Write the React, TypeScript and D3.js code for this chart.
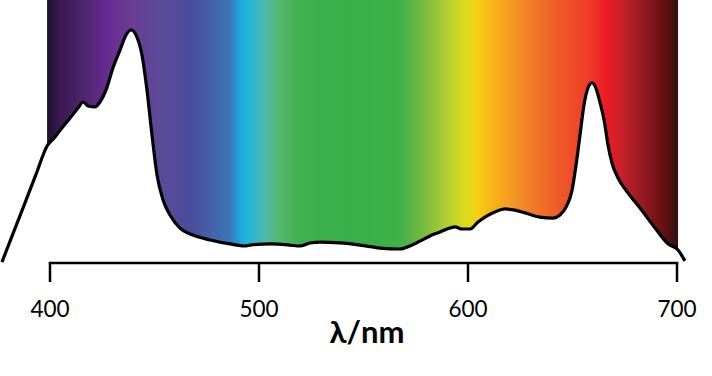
import React from "react";
import * as d3 from "d3";

const W = 712;
const H = 376;

// Emission spectrum: wavelength (nm) and relative intensity (%)
const wavelengths = [
  377.0, 387.8, 393.2, 398.6, 402.4, 405.7, 409.6, 413.4, 415.8, 418.2, 421.5, 423.9, 427.3, 430.1,
  433.5, 436.4, 438.8, 441.1, 444.0, 446.4, 448.8, 451.2, 454.1, 457.4, 462.2, 468.4,
  476.6, 486.1, 493.3, 495.7, 505.3, 514.8, 519.6, 524.4, 529.2, 538.8, 548.3, 557.9,
  567.5, 572.2, 577.0, 581.8, 586.6, 590.0, 593.8, 597.1, 601.0, 604.8, 609.1, 612.9,
  617.7, 622.5, 627.3, 634.4, 640.7, 644.0, 646.9, 649.8, 651.7, 653.6, 655.5, 657.4,
  659.3, 661.2, 663.2, 665.1, 667.0, 668.9, 671.8, 676.6, 682.3, 689.5, 695.7, 700.5,
  703.8,
];
const intensities = [
  0.4, 25.3, 37.8, 50.2, 54.1, 57.9, 62.2, 66.5, 69.1, 67.4, 67.0, 69.1, 75.5, 83.7,
  91.4, 97.9, 100, 97.9, 89.3, 74.2, 54.9, 37.8, 27.0, 20.6, 15.0, 12.0,
  9.9, 8.2, 7.3, 7.7, 8.2, 7.7, 7.3, 8.6, 9.0, 8.6, 7.7, 6.4,
  6.0, 7.3, 9.4, 11.6, 13.3, 14.6, 15.5, 14.6, 14.6, 17.6, 20.2, 21.9,
  23.2, 22.7, 21.5, 19.7, 19.3, 20.6, 24.0, 31.3, 42.1, 54.9, 67.8, 75.1,
  77.3, 75.1, 68.7, 61.4, 50.6, 42.9, 36.5, 30.0, 23.6, 15.0, 8.2, 5.6,
  0.9,
];

// Spectrum colour stops (nm -> colour)
const stopNm = [
  398.6, 404.8, 414.4, 426.3, 438.3, 452.6, 467.0, 476.6, 486.1, 492.3, 498.1, 502.9,
  510.0, 519.6, 543.5, 567.5, 577.0, 586.6, 598.6, 604.8, 610.5, 620.1, 629.7, 644.0,
  658.4, 665.6, 675.1, 684.7, 694.3, 700.5,
];
const stopColors = [
  "#1f0f2f", "#3a1a50", "#4a2468", "#662a90", "#6a3c94", "#5c4a98", "#4a4c9c", "#4560a8",
  "#3a78b8", "#1ab0e0", "#30b8c8", "#50b8a8", "#55b870", "#40b050", "#38b04a", "#40b048",
  "#70b840", "#a0c838", "#dcdc20", "#f5d010", "#f8b818", "#f39a20", "#f07e28", "#ee5a28",
  "#ee3a28", "#ed1c24", "#c0202a", "#901820", "#601010", "#301010",
];
const spectrumStart = 398.6;
const spectrumEnd = 700.5;

const tickValues = [400, 500, 600, 700];
const axisTitle = "λ/nm";

export default function App() {
  const x = d3.scaleLinear().domain([400, 700]).range([50, 677]);
  const y = d3.scaleLinear().domain([0, 100]).range([263, 30]);
  const axisY = 263;

  const pts: [number, number][] = wavelengths.map((w, i) => [w, intensities[i]]);
  const line = d3
    .line<[number, number]>()
    .x((d) => x(d[0]))
    .y((d) => y(d[1]))
    .curve(d3.curveMonotoneX);
  const area = d3
    .area<[number, number]>()
    .x((d) => x(d[0]))
    .y0(axisY + 2)
    .y1((d) => y(d[1]))
    .curve(d3.curveMonotoneX);

  const x0 = x(spectrumStart);
  const x1 = x(spectrumEnd);

  return (
    <svg
      width={W}
      height={H}
      style={{ position: "absolute", left: 0, top: 0, background: "#fff" }}
      fontFamily="Lato, 'Open Sans', sans-serif"
    >
      <defs>
        <linearGradient id="spec" gradientUnits="userSpaceOnUse" x1={x0} y1={0} x2={x1} y2={0}>
          {stopNm.map((n, i) => (
            <stop key={i} offset={(x(n) - x0) / (x1 - x0)} stopColor={stopColors[i]} />
          ))}
        </linearGradient>
      </defs>
      <rect x={x0} y={0} width={x1 - x0} height={axisY} fill="url(#spec)" />
      <path d={area(pts) || ""} fill="#fff" />
      <path d={line(pts) || ""} fill="none" stroke="#000" strokeWidth={3.2} strokeLinejoin="round" />
      <line x1={x(400)} x2={x(700)} y1={axisY} y2={axisY} stroke="#000" strokeWidth={2.5} strokeLinecap="square" />
      {tickValues.map((t) => (
        <g key={t}>
          <line x1={x(t)} x2={x(t)} y1={axisY} y2={axisY + 19} stroke="#000" strokeWidth={2.5} />
          <text x={x(t)} y={317} textAnchor="middle" fontSize={22.5} fill="#000">
            {t}
          </text>
        </g>
      ))}
      <text x={367} y={343} textAnchor="middle" fontSize={31} fontWeight="bold" fill="#000">
        {axisTitle}
      </text>
    </svg>
  );
}
